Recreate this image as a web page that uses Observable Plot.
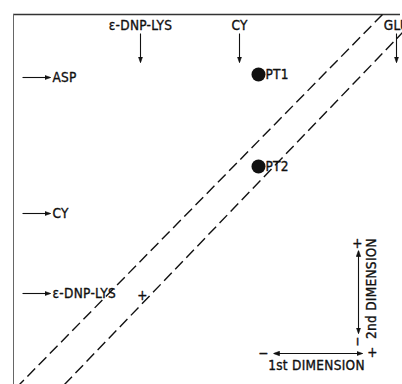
<!DOCTYPE html>
<html><head><meta charset="utf-8">
<script src="https://cdn.jsdelivr.net/npm/d3@7"></script>
<script src="https://cdn.jsdelivr.net/npm/@observablehq/plot@0.6"></script>
<style>body{margin:0;background:#fff} svg text{letter-spacing:0.3px}</style>
</head><body><div id="chart"></div>
<script>
// Spots (distance from the origin corner, 1st / 2nd dimension)
const spotNames = ["PT1", "PT2"];
const spotX = [245, 245];
const spotY = [60, 152];
// Standards marked along the top (1st dimension)
const topStdNames = ["ε-DNP-LYS", "CY", "GLU"];
const topStdX = [127, 226, 383];
// Standards marked along the left (2nd dimension)
const leftStdNames = ["ASP", "CY", "ε-DNP-LYS"];
const leftStdY = [63, 199, 279];
// Origin
const originX = [129];
const originY = [281];
// Dashed diagonal band
const bandX1 = [369, 391];
const bandY1 = [0, 16];
const bandX2 = [6, 51];
const bandY2 = [370, 370];

const spots = spotNames.map((n, i) => ({name: n, x: spotX[i], y: spotY[i]}));
const topStd = topStdNames.map((n, i) => ({name: n, x: topStdX[i]}));
const leftStd = leftStdNames.map((n, i) => ({name: n, y: leftStdY[i]}));
const band = bandX1.map((d, i) => ({x1: d, y1: bandY1[i], x2: bandX2[i], y2: bandY2[i]}));

const filledArrow = (color) => {
  const ns = "http://www.w3.org/2000/svg";
  const m = document.createElementNS(ns, "marker");
  m.setAttribute("viewBox", "-5 -5 10 10");
  m.setAttribute("markerWidth", 6);
  m.setAttribute("markerHeight", 6);
  m.setAttribute("markerUnits", "userSpaceOnUse");
  m.setAttribute("refX", 5);
  m.setAttribute("refY", 0);
  m.setAttribute("orient", "auto-start-reverse");
  const p = document.createElementNS(ns, "path");
  p.setAttribute("d", "M-5,-3.6L5,0L-5,3.6Z");
  p.setAttribute("fill", color);
  m.appendChild(p);
  return m;
};

const font = "'DejaVu Sans Condensed', 'DejaVu Sans', sans-serif";
const ink = "#111";
const fs = 13.5;
const txt = {fontSize: fs, fill: ink, stroke: ink, strokeWidth: 0.35};

const chart = Plot.plot({
  width: 402,
  height: 384,
  margin: 0,
  x: {domain: [0, 389], range: [13, 402], axis: null},
  y: {domain: [0, 370], range: [14, 384], axis: null},
  style: {background: "#fff", fontFamily: font, overflow: "visible"},
  marks: [
    // frame
    Plot.ruleY([0], {x1: 0, x2: 387, stroke: "#333", strokeWidth: 1.6}),
    Plot.ruleX([0], {y1: 0, y2: 370, stroke: "#666", strokeWidth: 1}),
    // dashed band
    Plot.link(band, {x1: "x1", y1: "y1", x2: "x2", y2: "y2", stroke: ink, strokeWidth: 1.4, strokeDasharray: "11,5"}),
    // top standards
    Plot.text(topStd, {x: "x", y: () => 11, text: "name", ...txt}),
    Plot.link(topStd, {x1: "x", x2: "x", y1: () => 19, y2: () => 48, stroke: ink, strokeWidth: 1.1, markerEnd: filledArrow}),
    // left standards
    Plot.link(leftStd, {x1: () => 9, x2: () => 37, y1: "y", y2: "y", stroke: ink, strokeWidth: 1.1, markerEnd: filledArrow}),
    Plot.text(leftStd, {x: () => 39, y: "y", text: "name", textAnchor: "start", ...txt}),
    // origin
    Plot.text(originX.map((x, i) => ({x, y: originY[i]})), {x: "x", y: "y", text: () => "+", ...txt}),
    // spots
    Plot.dot(spots, {x: "x", y: "y", r: 7, fill: ink, stroke: "none"}),
    Plot.text(spots, {x: "x", y: "y", text: "name", textAnchor: "start", dx: 7, ...txt}),
    // orientation key: 2nd dimension
    Plot.link([{}], {x1: () => 345, x2: () => 345, y1: () => 236, y2: () => 319, stroke: ink, strokeWidth: 1.1, markerStart: filledArrow, markerEnd: filledArrow}),
    Plot.text([{}], {x: () => 344, y: () => 229, text: () => "+", ...txt}),
    Plot.text([{}], {x: () => 344, y: () => 327, text: () => "−", rotate: -90, ...txt}),
    Plot.text([{}], {x: () => 358, y: () => 274, text: () => "2nd DIMENSION", rotate: -90, ...txt}),
    // orientation key: 1st dimension
    Plot.link([{}], {x1: () => 260, x2: () => 349, y1: () => 339, y2: () => 339, stroke: ink, strokeWidth: 1.1, markerStart: filledArrow, markerEnd: filledArrow}),
    Plot.text([{}], {x: () => 250, y: () => 339, text: () => "−", ...txt}),
    Plot.text([{}], {x: () => 359, y: () => 338, text: () => "+", ...txt}),
    Plot.text([{}], {x: () => 303, y: () => 351, text: () => "1st DIMENSION", ...txt})
  ]
});
document.getElementById("chart").appendChild(chart);
</script>
</body></html>
